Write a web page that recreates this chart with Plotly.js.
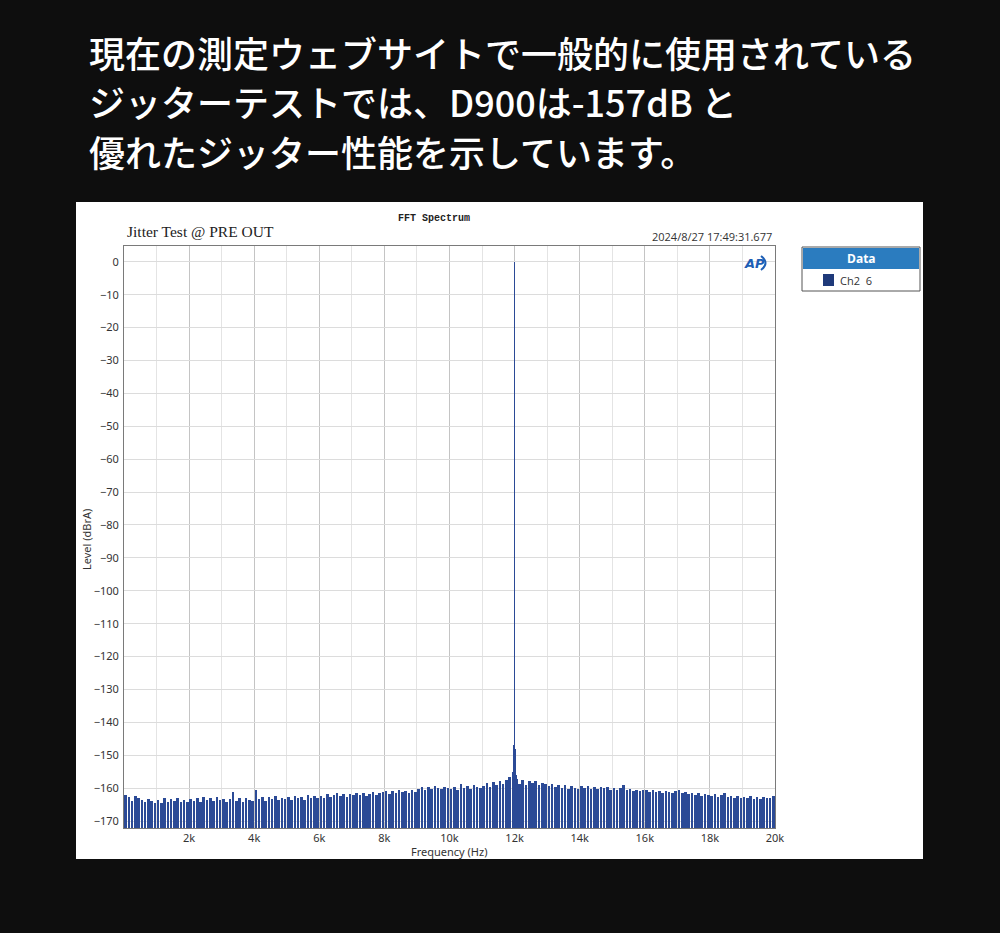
<!DOCTYPE html>
<html><head><meta charset="utf-8">
<script src="https://cdn.plot.ly/plotly-3.0.1.min.js"></script>
<style>html,body{margin:0;padding:0;background:#0e0e0e;}#chart{width:1000px;height:933px;}</style>
</head><body><div id="chart"></div>
<script>
// ---- data ----
const headlineLines = [
  "現在の測定ウェブサイトで一般的に使用されている",
  "ジッターテストでは、D900は-157dB と",
  "優れたジッター性能を示しています。"
];
const chartTitle = "FFT Spectrum";
const chartSubtitle = "Jitter Test @ PRE OUT";
const timestamp = "2024/8/27 17:49:31.677";
const legendHeader = "Data";
const legendItem = "Ch2  6";
const xTickValues = [2000, 4000, 6000, 8000, 10000, 12000, 14000, 16000, 18000, 20000];
const xTickLabels = ["2k", "4k", "6k", "8k", "10k", "12k", "14k", "16k", "18k", "20k"];
const yTickValues = [0, -10, -20, -30, -40, -50, -60, -70, -80, -90, -100, -110, -120, -130, -140, -150, -160, -170];

const noiseFreq = [
  50,150,250,350,450,550,650,750,850,950,
  1050,1150,1250,1350,1450,1550,1650,1750,1850,1950,
  2050,2150,2250,2350,2450,2550,2650,2750,2850,2950,
  3050,3150,3250,3350,3450,3550,3650,3750,3850,3950,
  4050,4150,4250,4350,4450,4550,4650,4750,4850,4950,
  5050,5150,5250,5350,5450,5550,5650,5750,5850,5950,
  6050,6150,6250,6350,6450,6550,6650,6750,6850,6950,
  7050,7150,7250,7350,7450,7550,7650,7750,7850,7950,
  8050,8150,8250,8350,8450,8550,8650,8750,8850,8950,
  9050,9150,9250,9350,9450,9550,9650,9750,9850,9950,
  10050,10150,10250,10350,10450,10550,10650,10750,10850,10950,
  11050,11150,11250,11350,11450,11550,11650,11750,11850,11950,
  12050,12150,12250,12350,12450,12550,12650,12750,12850,12950,
  13050,13150,13250,13350,13450,13550,13650,13750,13850,13950,
  14050,14150,14250,14350,14450,14550,14650,14750,14850,14950,
  15050,15150,15250,15350,15450,15550,15650,15750,15850,15950,
  16050,16150,16250,16350,16450,16550,16650,16750,16850,16950,
  17050,17150,17250,17350,17450,17550,17650,17750,17850,17950,
  18050,18150,18250,18350,18450,18550,18650,18750,18850,18950,
  19050,19150,19250,19350,19450,19550,19650,19750,19850,19950
];
const noiseLevel = [
  -162.0,-162.6,-163.8,-162.3,-163.1,-163.6,-164.2,-163.2,-163.9,-164.4,
  -163.5,-164.6,-163.0,-164.2,-163.4,-164.0,-162.9,-164.3,-163.6,-164.1,
  -163.4,-163.9,-163.0,-164.2,-162.6,-163.5,-163.1,-164.0,-162.8,-163.7,
  -163.2,-164.1,-163.4,-161.3,-163.8,-163.0,-164.2,-162.9,-163.5,-163.9,
  -160.5,-163.3,-162.6,-163.9,-162.8,-163.4,-162.5,-163.7,-162.9,-163.2,
  -162.6,-163.5,-162.4,-163.0,-162.7,-163.6,-162.2,-162.9,-162.5,-163.1,
  -162.3,-163.0,-161.8,-162.6,-162.1,-161.6,-162.4,-161.9,-162.7,-161.7,
  -162.2,-161.5,-162.0,-161.4,-162.3,-161.8,-161.2,-162.0,-161.6,-161.3,
  -161.0,-161.7,-160.8,-161.4,-160.6,-161.2,-160.9,-161.5,-160.7,-161.1,
  -160.2,-159.7,-160.4,-159.5,-160.1,-159.4,-159.9,-160.3,-159.6,-160.0,
  -160.1,-159.5,-160.4,-158.7,-159.9,-159.3,-160.2,-158.9,-159.6,-160.0,
  -159.2,-158.5,-159.7,-158.2,-159.0,-157.9,-158.8,-157.4,-156.6,-158.5,
  -157.2,-158.6,-157.5,-158.9,-157.7,-158.3,-157.9,-159.0,-158.4,-158.8,
  -159.3,-158.7,-159.6,-158.9,-159.8,-159.1,-160.2,-159.4,-159.9,-160.3,
  -159.2,-159.8,-159.4,-160.1,-159.6,-160.3,-159.5,-160.0,-159.7,-160.4,
  -160.0,-160.5,-159.9,-159.1,-160.6,-160.2,-160.8,-160.4,-160.9,-160.6,
  -160.7,-161.1,-160.6,-161.3,-160.9,-161.4,-160.8,-161.2,-161.6,-160.9,
  -160.6,-161.5,-161.2,-161.8,-161.4,-162.0,-161.6,-162.3,-161.7,-162.1,
  -162.4,-161.8,-162.6,-162.2,-161.5,-162.7,-162.3,-162.9,-162.5,-163.1,
  -162.6,-163.0,-162.4,-163.2,-162.8,-163.3,-162.7,-163.1,-162.9,-162.3
];
const peakFreq = [11940, 11970, 12000, 12030, 12060];
const peakLevel = [-155, -147, 0, -148, -156];

// ---- layout helpers ----
const BASE = -172.1;
const L = 124, R = 775, T = 246, B = 828;
const px = x => (x - L) / (R - L);
const py = y => (B - y) / (B - T);

const barColor = "#2b4a96";

const traces = [
  {
    type: "bar", x: noiseFreq, y: noiseLevel.map(v => v - BASE), base: BASE,
    width: 78, marker: {color: barColor, line: {width: 0}}, hoverinfo: "skip"
  },
  {
    type: "bar", x: peakFreq, y: peakLevel.map(v => v - BASE), base: BASE,
    width: 40, marker: {color: barColor, line: {width: 0}}, hoverinfo: "skip"
  }
];

const tickFont = {family: "Noto Sans, Open Sans, sans-serif", size: 11, color: "#333"};

const annotations = [];
const lineY = [52, 101, 151];
headlineLines.forEach((t, i) => annotations.push({
  xref: "paper", yref: "paper", x: px(87), y: py(lineY[i]), xanchor: "left", yanchor: "middle",
  text: t, showarrow: false,
  font: {family: "Noto Sans CJK JP", size: 36, color: "#ffffff", weight: 500}
}));
annotations.push(
  {xref: "paper", yref: "paper", x: px(434), y: py(219), xanchor: "center", yanchor: "middle",
   text: chartTitle, showarrow: false, font: {family: "Liberation Mono, monospace", size: 10, color: "#222", weight: "bold"}},
  {xref: "paper", yref: "paper", x: px(125), y: py(231), xanchor: "left", yanchor: "middle",
   text: chartSubtitle, showarrow: false, font: {family: "Liberation Serif, serif", size: 15.5, color: "#222"}},
  {xref: "paper", yref: "paper", x: px(774), y: py(236), xanchor: "right", yanchor: "middle",
   text: timestamp, showarrow: false, font: {family: "Open Sans, sans-serif", size: 11, color: "#333"}},
  {xref: "paper", yref: "paper", x: px(449), y: py(851), xanchor: "center", yanchor: "middle",
   text: "Frequency (Hz)", showarrow: false, font: tickFont},
  {xref: "paper", yref: "paper", x: px(86), y: py(540), xanchor: "center", yanchor: "middle",
   text: "Level (dBrA)", textangle: -90, showarrow: false, font: tickFont},
  {xref: "paper", yref: "paper", x: px(861), y: py(258), xanchor: "center", yanchor: "middle",
   text: legendHeader, showarrow: false, font: {family: "Open Sans, sans-serif", size: 12, color: "#fff", weight: "bold"}},
  {xref: "paper", yref: "paper", x: px(838), y: py(280), xanchor: "left", yanchor: "middle",
   text: legendItem, showarrow: false, font: {family: "Open Sans, sans-serif", size: 11, color: "#333"}},
  {xref: "paper", yref: "paper", x: px(754), y: py(263), xanchor: "center", yanchor: "middle",
   text: "<i>AP</i>", showarrow: false, font: {family: "DejaVu Sans, sans-serif", size: 13, color: "#1f5fb5", weight: "bold"}}
);

const shapes = [
  {type: "rect", xref: "paper", yref: "paper", x0: px(76), x1: px(923), y0: py(859), y1: py(202),
   fillcolor: "#ffffff", line: {width: 0}, layer: "below"},
  {type: "rect", xref: "paper", yref: "paper", x0: px(802), x1: px(920), y0: py(291), y1: py(247),
   fillcolor: "#ffffff", line: {color: "#555", width: 1}},
  {type: "rect", xref: "paper", yref: "paper", x0: px(803), x1: px(919), y0: py(269), y1: py(248),
   fillcolor: "#2b7cbf", line: {width: 0}},
  {type: "rect", xref: "paper", yref: "paper", x0: px(823), x1: px(834), y0: py(286), y1: py(274),
   fillcolor: "#1f3a7a", line: {width: 0}},
  {type: "path", xref: "paper", yref: "paper",
   path: `M ${px(761)} ${py(256)} Q ${px(770)} ${py(263)} ${px(761)} ${py(270)}`,
   line: {color: "#1f5fb5", width: 2}}
];

const layout = {
  width: 1000, height: 933,
  paper_bgcolor: "#0e0e0e", plot_bgcolor: "#ffffff",
  margin: {l: L, r: 1000 - R, t: T, b: 933 - B, pad: 0},
  showlegend: false, barmode: "overlay", bargap: 0,
  xaxis: {
    range: [0, 20000], tickvals: xTickValues, ticktext: xTickLabels,
    showgrid: true, gridcolor: "#c4c4c4", gridwidth: 1,
    minor: {dtick: 1000, tick0: 0, showgrid: true, gridcolor: "#e4e4e4", gridwidth: 1},
    showline: true, linecolor: "#7a7a7a", linewidth: 1, mirror: true,
    zeroline: false, ticks: "", tickfont: tickFont, fixedrange: true
  },
  yaxis: {
    range: [BASE, 4.8], tickvals: yTickValues,
    showgrid: true, gridcolor: "#dcdcdc", gridwidth: 1,
    showline: true, linecolor: "#7a7a7a", linewidth: 1, mirror: true,
    zeroline: false, ticks: "", tickfont: tickFont, ticklabelstandoff: 2, fixedrange: true
  },
  annotations: annotations,
  shapes: shapes
};

Plotly.newPlot("chart", traces, layout, {displayModeBar: false, staticPlot: true});
</script>
</body></html>
